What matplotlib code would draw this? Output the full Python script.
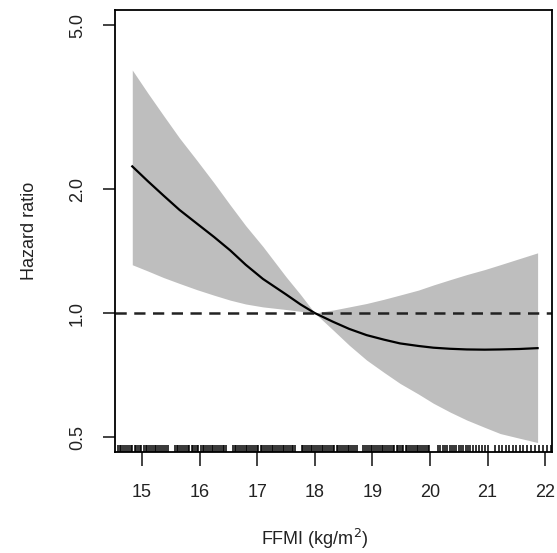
import matplotlib
matplotlib.use("Agg")
import matplotlib.pyplot as plt
from matplotlib.ticker import FixedLocator, NullLocator

plt.rcParams['font.family'] = ['Liberation Sans', 'DejaVu Sans']

# spline estimate
ffmi = [14.83, 15.10, 15.37, 15.65, 15.95, 16.25, 16.53, 16.80, 17.10, 17.50, 17.75, 18.00,
        18.32, 18.60, 18.90, 19.20, 19.48, 19.80, 20.06, 20.35, 20.64, 20.95, 21.22, 21.55, 21.87]
hr = [2.27, 2.09, 1.93, 1.78, 1.65, 1.53, 1.42, 1.31, 1.21, 1.11, 1.05, 1.00,
      0.952, 0.915, 0.884, 0.862, 0.844, 0.832, 0.824, 0.819, 0.816, 0.815, 0.816, 0.818, 0.822]
upper = [3.89, 3.42, 3.02, 2.66, 2.35, 2.07, 1.83, 1.63, 1.45, 1.225, 1.11, 1.00,
         1.017, 1.035, 1.055, 1.080, 1.106, 1.137, 1.17, 1.205, 1.24, 1.275, 1.31, 1.355, 1.40]
lower = [1.31, 1.265, 1.22, 1.18, 1.14, 1.105, 1.075, 1.052, 1.035, 1.02, 1.01, 1.00,
         0.909, 0.835, 0.769, 0.718, 0.675, 0.636, 0.604, 0.575, 0.55, 0.528, 0.51, 0.497, 0.485]

# observed FFMI values (rug)
rug_x = [14.58, 14.61, 14.64, 14.67, 14.70, 14.74, 14.77, 14.80, 14.83, 14.87, 14.90, 14.93,
         14.96, 14.99, 15.03, 15.06, 15.09, 15.12, 15.15, 15.19, 15.22, 15.25, 15.28, 15.31,
         15.35, 15.38, 15.41, 15.45, 15.57, 15.60, 15.63, 15.66, 15.70, 15.73, 15.76, 15.79,
         15.82, 15.86, 15.89, 15.92, 15.95, 15.98, 16.02, 16.05, 16.08, 16.11, 16.14, 16.18,
         16.21, 16.24, 16.27, 16.30, 16.34, 16.37, 16.40, 16.43, 16.46, 16.58, 16.61, 16.64,
         16.67, 16.70, 16.74, 16.77, 16.80, 16.83, 16.86, 16.90, 16.93, 16.96, 16.99, 17.02,
         17.06, 17.09, 17.12, 17.15, 17.18, 17.22, 17.25, 17.28, 17.31, 17.34, 17.38, 17.41,
         17.44, 17.47, 17.50, 17.54, 17.57, 17.60, 17.63, 17.66, 17.77, 17.80, 17.83, 17.86,
         17.90, 17.93, 17.96, 17.99, 18.02, 18.06, 18.09, 18.12, 18.15, 18.18, 18.22, 18.25,
         18.28, 18.31, 18.34, 18.38, 18.41, 18.44, 18.47, 18.50, 18.54, 18.57, 18.60, 18.63,
         18.66, 18.70, 18.73, 18.84, 18.87, 18.90, 18.94, 18.97, 19.00, 19.03, 19.06, 19.10,
         19.13, 19.16, 19.19, 19.22, 19.26, 19.29, 19.32, 19.35, 19.38, 19.42, 19.45, 19.48,
         19.51, 19.54, 19.58, 19.61, 19.64, 19.67, 19.70, 19.74, 19.77, 19.80, 19.83, 19.86,
         19.90, 19.93, 19.96, 19.99, 20.14, 20.18, 20.22, 20.26, 20.30, 20.34, 20.38, 20.42,
         20.46, 20.50, 20.54, 20.58, 20.62, 20.66, 20.70, 20.75, 20.80, 20.85, 20.90, 20.95,
         21.00, 21.13, 21.20, 21.26, 21.32, 21.38, 21.44, 21.50, 21.56, 21.62, 21.68, 21.75,
         21.82, 21.89, 21.96, 22.03, 22.10]

yticks = [0.5, 1.0, 2.0, 5.0]
ytick_labels = ["0.5", "1.0", "2.0", "5.0"]
xticks = [15, 16, 17, 18, 19, 20, 21, 22]

fig = plt.figure(figsize=(5.57, 5.53), dpi=100)
ax = fig.add_axes([115 / 557, 1 - 452 / 553, 437 / 557, 442 / 553])

ax.fill_between(ffmi, lower, upper, color="#bebebe", linewidth=0)
ax.plot(ffmi, hr, color="black", lw=1.6)
ax.axhline(1.0, color="#222222", lw=1.8, dashes=(4.5, 3))
ax.vlines(rug_x, 0, 0.016, transform=ax.get_xaxis_transform(), color="black", lw=1.1)

ax.set_yscale("log")
ax.set_xlim(14.53, 22.12)
ax.set_ylim(0.46, 5.44)
ax.yaxis.set_major_locator(FixedLocator(yticks))
ax.yaxis.set_minor_locator(NullLocator())
ax.set_yticklabels(ytick_labels, rotation=90, va="center")
ax.set_xticks(xticks)
ax.set_xticklabels([str(t) for t in xticks])

for s in ax.spines.values():
    s.set_linewidth(1.3)
ax.tick_params(axis="x", length=10, width=1.2, pad=13, labelsize=13, colors="#222222")
ax.tick_params(axis="y", length=9, width=1.2, pad=12, labelsize=13, colors="#222222")

ax.set_xlabel("FFMI (kg/m$^2$)", fontsize=13, color="#222222")
ax.xaxis.set_label_coords((315 - 115) / 437, -(527 - 452) / 442)
ax.set_ylabel("Hazard ratio", fontsize=13, color="#222222")
ax.yaxis.set_label_coords(-(115 - 38) / 437, 0.5)

fig.savefig("out.png", dpi=100)
